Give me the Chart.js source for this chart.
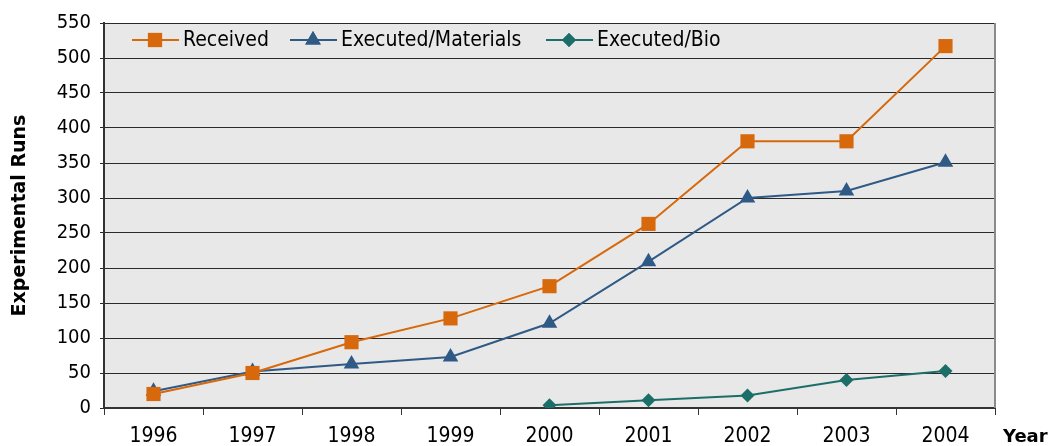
<!DOCTYPE html>
<html>
<head>
<meta charset="utf-8">
<script src="https://cdn.jsdelivr.net/npm/chart.js@4/dist/chart.umd.min.js"></script>
<style>
  html, body { margin: 0; padding: 0; background: #fff; }
  #wrap { width: 1056px; height: 446px; }
</style>
</head>
<body>
<div id="wrap"><canvas id="runs"></canvas></div>
<script>
const years = ["1996", "1997", "1998", "1999", "2000", "2001", "2002", "2003", "2004"];
const received = [20, 50, 94, 128, 174, 263, 381, 381, 517];
const executedMaterials = [24, 52, 63, 73, 121, 209, 300, 310, 351];
const executedBio = [null, null, null, null, 4, 11, 18, 40, 53];
const yTicks = [0, 50, 100, 150, 200, 250, 300, 350, 400, 450, 500, 550];

const FONT = "'DejaVu Sans Condensed', 'DejaVu Sans', sans-serif";
const BOLD_FONT = "'DejaVu Sans', sans-serif";

const series = [
  { label: "Received", data: received, color: "#d7680b", style: "rect", radius: 10 },
  { label: "Executed/Materials", data: executedMaterials, color: "#2f5a86", style: "triangle", radius: 9 },
  { label: "Executed/Bio", data: executedBio, color: "#1c6f68", style: "rectRot", radius: 7 }
];

// plot background, right border, legend inside the plot, "Year" label
const decorations = {
  id: "decorations",
  beforeDraw(chart) {
    const { ctx, chartArea: a } = chart;
    ctx.save();
    ctx.fillStyle = "#e8e8e8";
    ctx.fillRect(a.left, a.top, a.right - a.left, a.bottom - a.top);
    ctx.restore();
  },
  afterDatasetsDraw(chart) {
    const { ctx, chartArea: a } = chart;
    ctx.save();
    ctx.strokeStyle = "#8a8a8a";
    ctx.lineWidth = 2;
    ctx.beginPath();
    ctx.moveTo(a.right, a.top);
    ctx.lineTo(a.right, a.bottom);
    ctx.stroke();

    // legend
    const y = 40;
    const starts = [132, 290, 546];
    ctx.font = "21px " + FONT;
    ctx.textBaseline = "middle";
    series.forEach((s, i) => {
      const x0 = starts[i];
      ctx.strokeStyle = s.color;
      ctx.lineWidth = 2;
      ctx.beginPath();
      ctx.moveTo(x0, y);
      ctx.lineTo(x0 + 47, y);
      ctx.stroke();
      ctx.fillStyle = s.color;
      Chart.helpers.drawPoint(ctx, { pointStyle: s.style, radius: s.radius, rotation: 0, borderWidth: 0 }, x0 + 23, y);
      ctx.fill();
      ctx.fillStyle = "#000";
      ctx.textAlign = "left";
      ctx.fillText(s.label, x0 + 51, y + 1);
    });

    // axis caption at the right end of the x labels
    ctx.font = "bold 18px " + BOLD_FONT;
    ctx.fillStyle = "#000";
    ctx.textAlign = "left";
    ctx.fillText("Year", 1003, 437);
    ctx.restore();
  }
};

new Chart(document.getElementById("runs"), {
  type: "line",
  data: {
    labels: years,
    datasets: series.map((s) => ({
      label: s.label,
      data: s.data,
      borderColor: s.color,
      backgroundColor: s.color,
      borderWidth: 2,
      pointStyle: s.style,
      pointRadius: s.radius,
      pointHoverRadius: s.radius,
      pointBorderWidth: 0,
      tension: 0,
      spanGaps: false
    }))
  },
  options: {
    responsive: true,
    maintainAspectRatio: false,
    animation: false,
    layout: { padding: { top: 23, right: 61, bottom: 0, left: 0 } },
    plugins: {
      legend: { display: false },
      tooltip: { enabled: false }
    },
    scales: {
      x: {
        offset: true,
        grid: {
          offset: true,
          drawOnChartArea: false,
          drawTicks: true,
          tickLength: 7,
          color: "#333",
          lineWidth: 1
        },
        border: { color: "#333", width: 2 },
        ticks: {
          color: "#000",
          font: { family: FONT, size: 21 },
          padding: 9
        },
        afterFit(scale) { scale.height = 38; }
      },
      y: {
        min: 0,
        max: 550,
        afterBuildTicks(scale) { scale.ticks = yTicks.map((v) => ({ value: v })); },
        grid: {
          color: "#2a2a2a",
          lineWidth: 1,
          drawTicks: true,
          tickLength: 4
        },
        border: { color: "#333", width: 2 },
        ticks: {
          color: "#000",
          font: { family: FONT, size: 20 },
          padding: 9
        },
        title: {
          display: true,
          text: "Experimental Runs",
          color: "#000",
          font: { family: BOLD_FONT, size: 19, weight: "bold" },
          padding: { top: 9, bottom: 0 }
        },
        afterFit(scale) { scale.width = 104; }
      }
    }
  },
  plugins: [decorations]
});
</script>
</body>
</html>
